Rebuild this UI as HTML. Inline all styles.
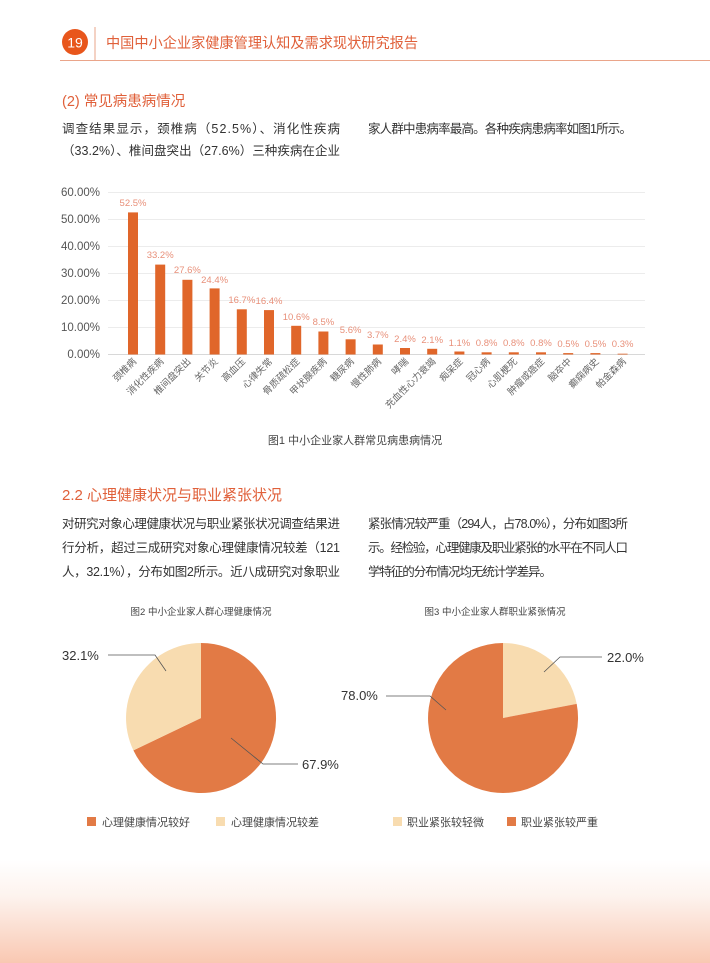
<!DOCTYPE html>
<html><head><meta charset="utf-8">
<style>
html,body{margin:0;padding:0;background:#fff;}
svg{display:block;}
text{font-family:"Liberation Sans","Noto Sans CJK SC",sans-serif;}
</style></head>
<body>
<svg width="710" height="963" viewBox="0 0 710 963" xmlns="http://www.w3.org/2000/svg">
<defs>
<linearGradient id="bg" x1="0" y1="0" x2="0" y2="1">
<stop offset="0" stop-color="#ffffff"/>
<stop offset="0.35" stop-color="#fdf3ee"/>
<stop offset="1" stop-color="#f9c8b2"/>
</linearGradient>
</defs>
<rect x="0" y="860" width="710" height="103" fill="url(#bg)"/>
<!-- header -->
<circle cx="75" cy="42" r="13" fill="#e8561c"/>
<text x="75" y="47.5" font-size="14" fill="#fff" text-anchor="middle">19</text>
<line x1="95" y1="27" x2="95" y2="60" stroke="#eaa58a" stroke-width="1"/>
<line x1="60" y1="60.5" x2="710" y2="60.5" stroke="#eaa58a" stroke-width="1"/>
<text x="106" y="48" font-size="14.5" fill="#e0603a" textLength="312" lengthAdjust="spacingAndGlyphs">中国中小企业家健康管理认知及需求现状研究报告</text>

<text x="62" y="106" font-size="14.5" fill="#e0603a">(2) 常见病患病情况</text>
<g font-size="12.5" fill="#333">
<text x="62" y="133" textLength="278" lengthAdjust="spacing">调查结果显示，颈椎病（52.5%）、消化性疾病</text>
<text x="62" y="155" textLength="278" lengthAdjust="spacing">（33.2%）、椎间盘突出（27.6%）三种疾病在企业</text>
<text x="368" y="133" textLength="264" lengthAdjust="spacing">家人群中患病率最高。各种疾病患病率如图1所示。</text>
</g>

<!-- bar chart -->
<g stroke="#ececec" stroke-width="1">
<line x1="108" y1="192.5" x2="645" y2="192.5"/>
<line x1="108" y1="219.5" x2="645" y2="219.5"/>
<line x1="108" y1="246.5" x2="645" y2="246.5"/>
<line x1="108" y1="273.5" x2="645" y2="273.5"/>
<line x1="108" y1="300.5" x2="645" y2="300.5"/>
<line x1="108" y1="327.5" x2="645" y2="327.5"/>
<line x1="108" y1="354.5" x2="645" y2="354.5" stroke="#d8d8d8"/>
</g>
<g font-size="11.5" fill="#555" text-anchor="end">
<text x="100" y="196">60.00%</text>
<text x="100" y="223">50.00%</text>
<text x="100" y="250">40.00%</text>
<text x="100" y="277">30.00%</text>
<text x="100" y="304">20.00%</text>
<text x="100" y="331">10.00%</text>
<text x="100" y="358">0.00%</text>
</g>
<g fill="#e0662a">
<rect x="128" y="212.4" width="10" height="142.1"/>
<rect x="155.2" y="264.6" width="10" height="89.9"/>
<rect x="182.4" y="279.8" width="10" height="74.7"/>
<rect x="209.6" y="288.4" width="10" height="66.1"/>
<rect x="236.8" y="309.3" width="10" height="45.2"/>
<rect x="264" y="310.1" width="10" height="44.4"/>
<rect x="291.2" y="325.8" width="10" height="28.7"/>
<rect x="318.4" y="331.5" width="10" height="23"/>
<rect x="345.6" y="339.3" width="10" height="15.2"/>
<rect x="372.8" y="344.5" width="10" height="10"/>
<rect x="400" y="348" width="10" height="6.5"/>
<rect x="427.2" y="348.8" width="10" height="5.7"/>
<rect x="454.4" y="351.5" width="10" height="3"/>
<rect x="481.6" y="352.3" width="10" height="2.2"/>
<rect x="508.8" y="352.3" width="10" height="2.2"/>
<rect x="536" y="352.3" width="10" height="2.2"/>
<rect x="563.2" y="353.1" width="10" height="1.4"/>
<rect x="590.4" y="353.1" width="10" height="1.4"/>
<rect x="617.6" y="353.7" width="10" height="0.8"/>
</g>
<g font-size="9.5" fill="#e8907a" text-anchor="middle">
<text x="133" y="206">52.5%</text>
<text x="160.2" y="258">33.2%</text>
<text x="187.4" y="273">27.6%</text>
<text x="214.6" y="283">24.4%</text>
<text x="241.8" y="303">16.7%</text>
<text x="269" y="304">16.4%</text>
<text x="296.2" y="320">10.6%</text>
<text x="323.4" y="325">8.5%</text>
<text x="350.6" y="333">5.6%</text>
<text x="377.8" y="338">3.7%</text>
<text x="405" y="342">2.4%</text>
<text x="432.2" y="343">2.1%</text>
<text x="459.4" y="346">1.1%</text>
<text x="486.6" y="346">0.8%</text>
<text x="513.8" y="346">0.8%</text>
<text x="541" y="346">0.8%</text>
<text x="568.2" y="347">0.5%</text>
<text x="595.4" y="347">0.5%</text>
<text x="622.6" y="347">0.3%</text>
</g>
<g font-size="9.5" fill="#666" text-anchor="end">
<text transform="translate(137,362) rotate(-45)">颈椎病</text>
<text transform="translate(164.2,362) rotate(-45)">消化性疾病</text>
<text transform="translate(191.4,362) rotate(-45)">椎间盘突出</text>
<text transform="translate(218.6,362) rotate(-45)">关节炎</text>
<text transform="translate(245.8,362) rotate(-45)">高血压</text>
<text transform="translate(273,362) rotate(-45)">心律失常</text>
<text transform="translate(300.2,362) rotate(-45)">骨质疏松症</text>
<text transform="translate(327.4,362) rotate(-45)">甲状腺疾病</text>
<text transform="translate(354.6,362) rotate(-45)">糖尿病</text>
<text transform="translate(381.8,362) rotate(-45)">慢性肺病</text>
<text transform="translate(409,362) rotate(-45)">哮喘</text>
<text transform="translate(436.2,362) rotate(-45)">充血性心力衰竭</text>
<text transform="translate(463.4,362) rotate(-45)">痴呆症</text>
<text transform="translate(490.6,362) rotate(-45)">冠心病</text>
<text transform="translate(517.8,362) rotate(-45)">心肌梗死</text>
<text transform="translate(545,362) rotate(-45)">肿瘤或癌症</text>
<text transform="translate(572.2,362) rotate(-45)">脑卒中</text>
<text transform="translate(599.4,362) rotate(-45)">癫痫病史</text>
<text transform="translate(626.6,362) rotate(-45)">帕金森病</text>
</g>
<text x="355" y="444" font-size="11" fill="#444" text-anchor="middle">图1 中小企业家人群常见病患病情况</text>

<text x="62" y="500" font-size="15" fill="#e0603a">2.2 心理健康状况与职业紧张状况</text>
<g font-size="12.5" fill="#333">
<text x="62" y="528" textLength="278" lengthAdjust="spacing">对研究对象心理健康状况与职业紧张状况调查结果进</text>
<text x="62" y="552" textLength="278" lengthAdjust="spacing">行分析，超过三成研究对象心理健康情况较差（121</text>
<text x="62" y="576" textLength="278" lengthAdjust="spacing">人，32.1%），分布如图2所示。近八成研究对象职业</text>
<text x="368" y="528" textLength="260" lengthAdjust="spacing">紧张情况较严重（294人，占78.0%），分布如图3所</text>
<text x="368" y="552" textLength="260" lengthAdjust="spacing">示。经检验，心理健康及职业紧张的水平在不同人口</text>
<text x="368" y="576" textLength="184" lengthAdjust="spacing">学特征的分布情况均无统计学差异。</text>
</g>

<!-- pie 1 -->
<text x="201" y="615" font-size="9.5" fill="#444" text-anchor="middle">图2 中小企业家人群心理健康情况</text>
<path d="M201,718 L201,643 A75,75 0 1,1 133.4,750.4 Z" fill="#e27a45"/>
<path d="M201,718 L133.4,750.4 A75,75 0 0,1 201,643 Z" fill="#f8dcb0"/>
<polyline points="108,655 155,655 166,671" fill="none" stroke="#555" stroke-width="0.8"/>
<polyline points="231,738 263,764 298,764" fill="none" stroke="#555" stroke-width="0.8"/>
<text x="62" y="660" font-size="13" fill="#333">32.1%</text>
<text x="302" y="769" font-size="13" fill="#333">67.9%</text>
<rect x="87" y="817" width="9" height="9" fill="#e27a45"/>
<text x="102" y="826" font-size="11" fill="#444">心理健康情况较好</text>
<rect x="216" y="817" width="9" height="9" fill="#f8dcb0"/>
<text x="231" y="826" font-size="11" fill="#444">心理健康情况较差</text>

<!-- pie 2 -->
<text x="495" y="615" font-size="9.5" fill="#444" text-anchor="middle">图3 中小企业家人群职业紧张情况</text>
<path d="M503,718 L503,643 A75,75 0 0,1 576.7,703.9 Z" fill="#f8dcb0"/>
<path d="M503,718 L576.7,703.9 A75,75 0 1,1 503,643 Z" fill="#e27a45"/>
<polyline points="602,657 560,657 544,672" fill="none" stroke="#555" stroke-width="0.8"/>
<polyline points="386,696 430,696 446,710" fill="none" stroke="#555" stroke-width="0.8"/>
<text x="607" y="662" font-size="13" fill="#333">22.0%</text>
<text x="341" y="700" font-size="13" fill="#333">78.0%</text>
<rect x="393" y="817" width="9" height="9" fill="#f8dcb0"/>
<text x="407" y="826" font-size="11" fill="#444">职业紧张较轻微</text>
<rect x="507" y="817" width="9" height="9" fill="#e27a45"/>
<text x="521" y="826" font-size="11" fill="#444">职业紧张较严重</text>
</svg>
</body></html>
